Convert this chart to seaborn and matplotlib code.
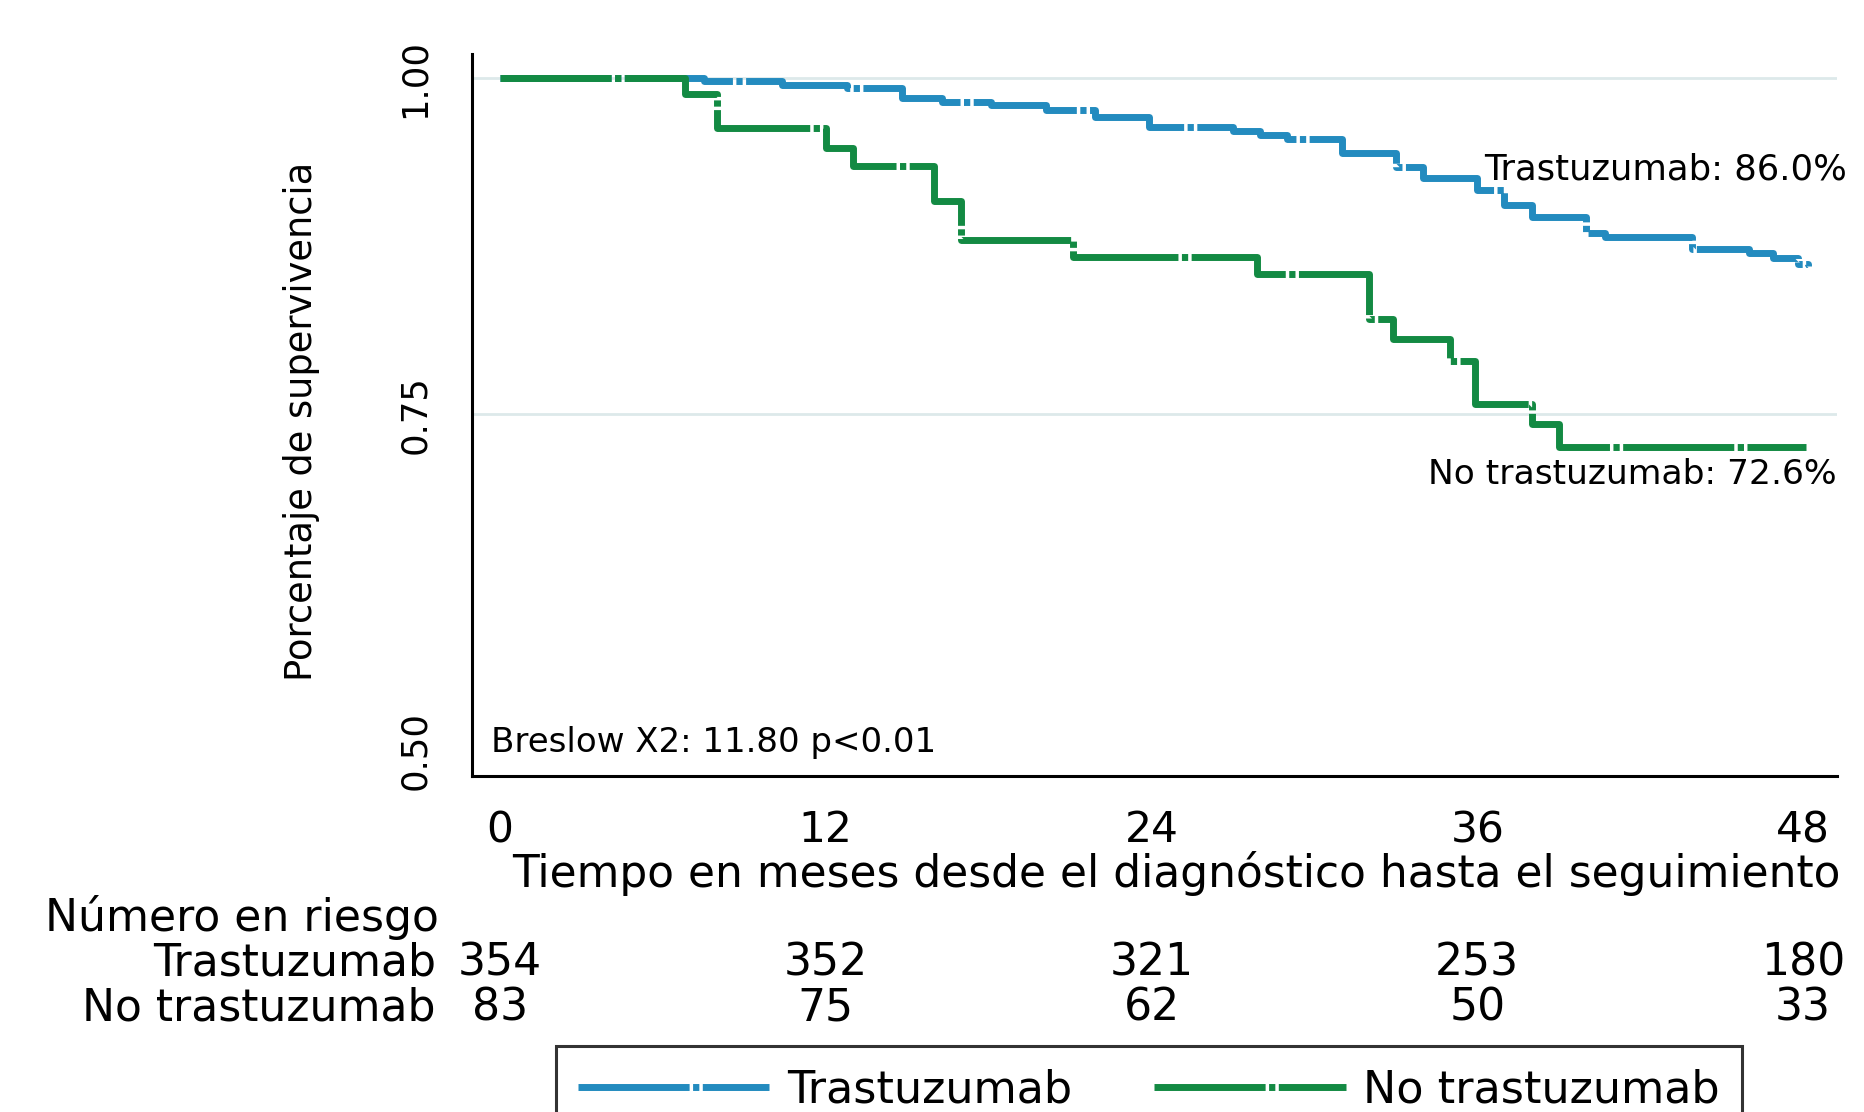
import matplotlib
matplotlib.use("Agg")
import matplotlib.pyplot as plt
import matplotlib.transforms as mtransforms
from matplotlib.lines import Line2D
import seaborn as sns
import pandas as pd

# ---- data ----
groups = ["Trastuzumab", "No trastuzumab"]
t_tras = [0, 7.5, 10.4, 12.8, 14.8, 16.3, 18.1, 20.1, 21.9, 23.9, 27.0, 28.0, 29.0,
          31.0, 33.0, 34.0, 36.0, 37.0, 38.0, 40.0, 40.7, 43.9, 46.0, 46.9, 47.8, 48.2]
s_tras = [1.0, 0.998, 0.995, 0.993, 0.985, 0.982, 0.980, 0.976, 0.971, 0.964, 0.961, 0.958, 0.955,
          0.944, 0.934, 0.926, 0.917, 0.906, 0.897, 0.885, 0.882, 0.873, 0.870, 0.866, 0.862, 0.860]
t_notras = [0, 6.8, 8.0, 12.0, 13.0, 16.0, 17.0, 21.1, 27.9, 32.0, 32.9, 35.0, 35.9, 38.0, 39.0, 48.1]
s_notras = [1.0, 0.988, 0.963, 0.948, 0.935, 0.909, 0.880, 0.867, 0.854, 0.821, 0.806, 0.790,
            0.758, 0.743, 0.726, 0.726]
risk_times = [0, 12, 24, 36, 48]
risk_tras = [354, 352, 321, 253, 180]
risk_notras = [83, 75, 62, 50, 33]
yticks = [0.50, 0.75, 1.00]
ytick_labels = ["0.50", "0.75", "1.00"]
xticks = [0, 12, 24, 36, 48]
annot_tras = "Trastuzumab: 86.0%"
annot_notras = "No trastuzumab: 72.6%"
annot_test = "Breslow X2: 11.80 p<0.01"

colors = {"Trastuzumab": "#238bbf", "No trastuzumab": "#138a43"}
DASH = (16, 0.5, 0.9, 0.5)

df = pd.concat([
    pd.DataFrame({"t": t_tras, "s": s_tras, "group": groups[0]}),
    pd.DataFrame({"t": t_notras, "s": s_notras, "group": groups[1]}),
], ignore_index=True)

sns.set_style("white")
plt.rcParams["font.family"] = ["DejaVu Sans"]
plt.rcParams["text.color"] = "black"
plt.rcParams["axes.labelcolor"] = "black"
plt.rcParams["xtick.color"] = "black"
plt.rcParams["ytick.color"] = "black"

fig = plt.figure(figsize=(18.64, 11.12), dpi=100)
W, H = 1864, 1112
ax = fig.add_axes([472 / W, 1 - 776 / H, (1837 - 472) / W, (776 - 54) / H])

for y in [0.75, 1.00]:
    ax.axhline(y, color="#dde9ea", lw=2, zorder=0)

sns.lineplot(data=df, x="t", y="s", hue="group", palette=colors,
             drawstyle="steps-post", estimator=None, sort=False,
             linewidth=5.0, ax=ax, legend=False)
for line in ax.lines[2:]:
    line.set_dashes(DASH)
    line.set_dash_capstyle("butt")

ax.set_xlim(-1.03, 49.25)
ax.set_ylim(0.481, 1.018)
ax.set_xticks(xticks)
ax.set_xticklabels([str(x) for x in xticks], fontsize=30.5)
ax.set_yticks(yticks)
ax.set_yticklabels(ytick_labels, fontsize=25.5, rotation=90, va="center")
ax.tick_params(axis="both", direction="out", length=13, width=2, color="black")
ax.tick_params(axis="x", pad=11)
ax.tick_params(axis="y", pad=16)
for side in ["top", "right"]:
    ax.spines[side].set_visible(False)
for side in ["left", "bottom"]:
    ax.spines[side].set_color("black")
    ax.spines[side].set_linewidth(2.2)

ax.set_xlabel("Tiempo en meses desde el diagnóstico hasta el seguimiento", fontsize=31.6)
ax.xaxis.label.set_va("center")
ax.xaxis.set_label_coords(0.516, (776 - 874) / 722)
ax.set_ylabel("Porcentaje de supervivencia", fontsize=26.5)
ax.yaxis.label.set_va("center")
ax.yaxis.set_label_coords((301 - 472) / 1365, (776 - 421) / 722)

ax.text(49.6, 0.932, annot_tras, ha="right", va="center", fontsize=25.5, clip_on=False)
ax.text(49.25, 0.7054, annot_notras, ha="right", va="center", fontsize=24.8, clip_on=False)
ax.text(-0.33, 0.506, annot_test, ha="left", va="center", fontsize=24.5)

# number at risk table
FS = 31.8
fig.text(45 / W, 1 - 918 / H, "Número en riesgo", ha="left", va="center", fontsize=FS)
fig.text(436 / W, 1 - 963 / H, groups[0], ha="right", va="center", fontsize=FS)
fig.text(436 / W, 1 - 1008 / H, groups[1], ha="right", va="center", fontsize=FS)
trans = mtransforms.blended_transform_factory(ax.transData, fig.transFigure)
for xt, a, b in zip(risk_times, risk_tras, risk_notras):
    ax.text(xt, 1 - 963 / H, str(a), ha="center", va="center", fontsize=FS,
            transform=trans, clip_on=False)
    ax.text(xt, 1 - 1008 / H, str(b), ha="center", va="center", fontsize=FS,
            transform=trans, clip_on=False)

# legend
handles = []
for g in groups:
    h = Line2D([], [], color=colors[g], lw=5.0)
    h.set_dashes(DASH)
    handles.append(h)
leg = fig.legend(handles, groups, loc="upper left",
                 bbox_to_anchor=(556 / W, 1 - 1046 / H), ncol=2, fontsize=32,
                 frameon=True, fancybox=False, edgecolor="black",
                 handlelength=4.3, handletextpad=0.4, columnspacing=1.85,
                 borderpad=0.5, borderaxespad=0)
leg.get_frame().set_linewidth(2.2)

fig.savefig("out.png", dpi=100, facecolor="white")
